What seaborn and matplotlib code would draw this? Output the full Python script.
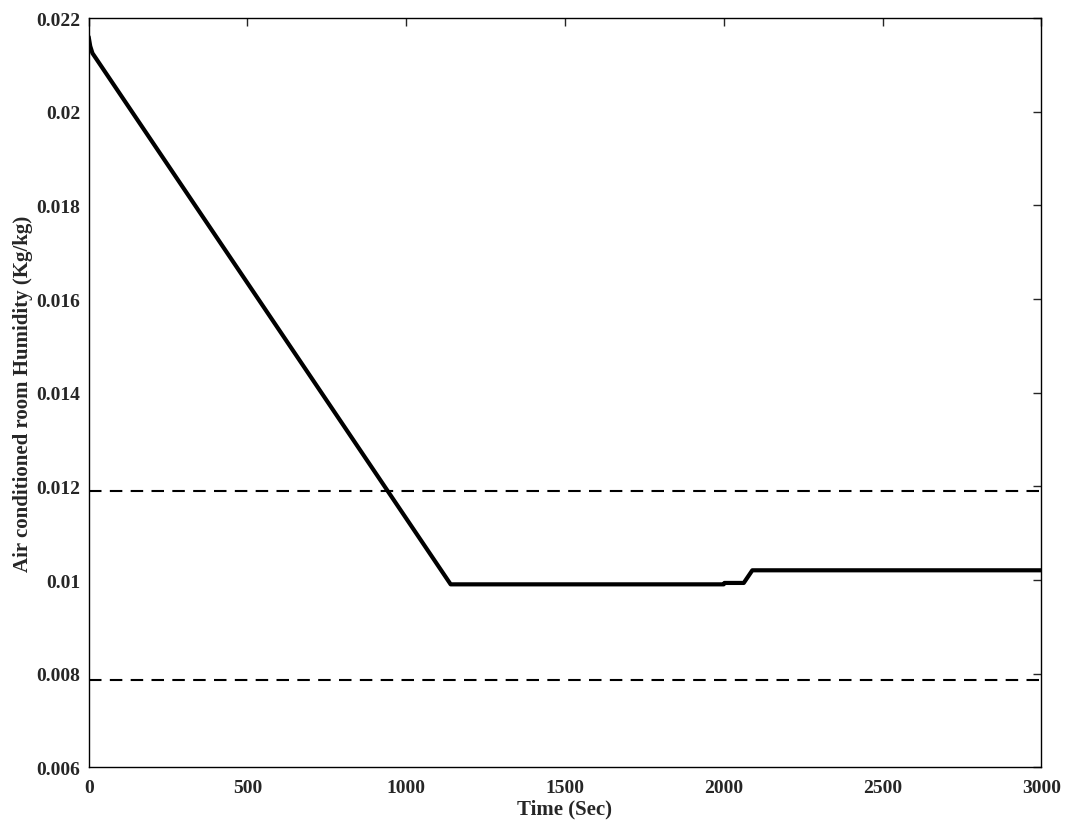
import matplotlib
matplotlib.use("Agg")
import matplotlib.pyplot as plt
import seaborn as sns

# humidity trace
time_s = [0, 5, 12, 22, 1140, 2000, 2002, 2063, 2090, 3000]
humidity = [0.02160, 0.02140, 0.02125, 0.02115, 0.00991, 0.00991, 0.00994, 0.00994, 0.01021, 0.01021]
upper_limit = 0.0119
lower_limit = 0.00787

sns.set_style("white")
plt.rcParams['font.family'] = ['Liberation Serif', 'DejaVu Serif']
plt.rcParams['font.weight'] = 'bold'

fig, ax = plt.subplots(figsize=(10.68, 8.29), dpi=100)
sns.lineplot(x=time_s, y=humidity, color='black', linewidth=3, ax=ax)
ax.axhline(upper_limit, color='black', linestyle=(0, (6, 4)), linewidth=1.5)
ax.axhline(lower_limit, color='black', linestyle=(0, (6, 4)), linewidth=1.5)

ax.set_xlim(0, 3000)
ax.set_ylim(0.006, 0.022)
ax.set_xticks(range(0, 3001, 500))
ax.set_yticks([0.006, 0.008, 0.01, 0.012, 0.014, 0.016, 0.018, 0.02, 0.022])
ax.set_yticklabels(['0.006', '0.008', '0.01', '0.012', '0.014', '0.016', '0.018', '0.02', '0.022'])
ax.tick_params(direction='in', top=True, right=True, length=6, labelsize=14, width=1)
ax.tick_params(axis='x', pad=8)
ax.tick_params(axis='y', pad=6)
for lbl in ax.get_xticklabels() + ax.get_yticklabels():
    lbl.set_fontweight('bold')
for s in ax.spines.values():
    s.set_linewidth(1)
    s.set_color('black')
ax.set_xlabel("Time (Sec)", fontsize=15, fontweight='bold', labelpad=2)
ax.set_ylabel("Air conditioned room Humidity (Kg/kg)", fontsize=15, fontweight='bold', labelpad=2)

plt.subplots_adjust(left=0.083, right=0.975, top=0.977, bottom=0.073)
plt.savefig("out.png")
